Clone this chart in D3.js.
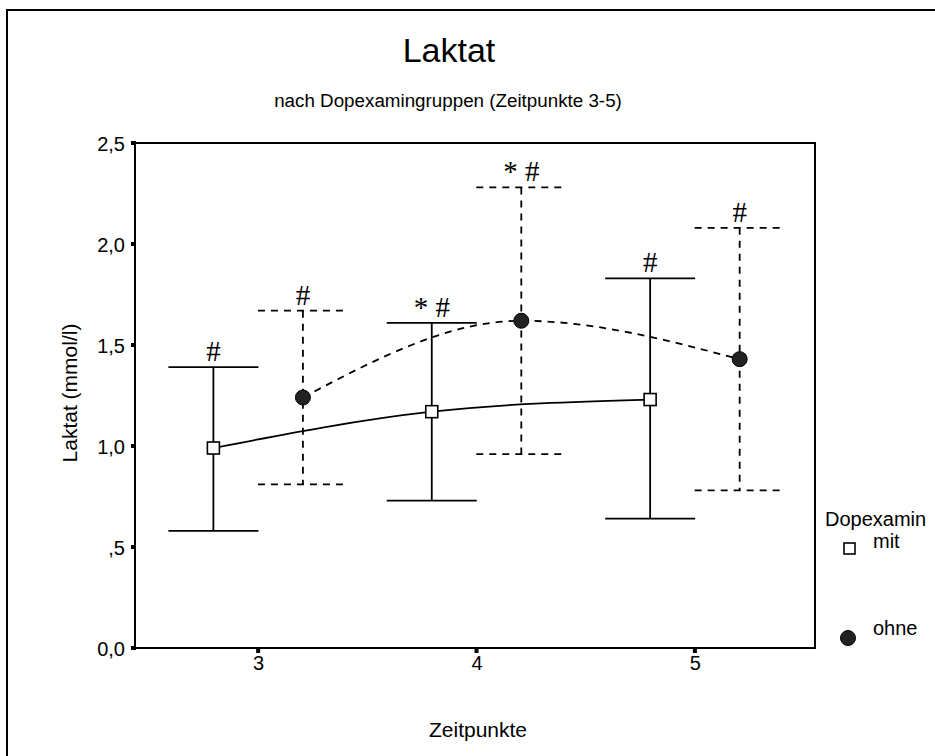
<!DOCTYPE html>
<html>
<head>
<meta charset="utf-8">
<script src="https://cdn.jsdelivr.net/npm/d3@7"></script>
<style>
  html, body { margin: 0; background: #fff; overflow: hidden; }
  svg { display: block; }
  text { font-family: Arial, "Liberation Sans", sans-serif; fill: #000; }
</style>
</head>
<body>
<div id="chart"></div>
<script>
// Data
const timepoints = [3, 4, 5];
const groups = ["mit", "ohne"];
const mitMean = [0.99, 1.17, 1.23];
const mitUpper = [1.39, 1.61, 1.83];
const mitLower = [0.58, 0.73, 0.64];
const ohneMean = [1.24, 1.62, 1.43];
const ohneUpper = [1.67, 2.28, 2.08];
const ohneLower = [0.81, 0.96, 0.78];
const mitMarks = ["#", "* #", "#"];
const ohneMarks = ["#", "* #", "#"];
const yTicks = [0, 0.5, 1.0, 1.5, 2.0, 2.5];

const W = 935, H = 756;
const margin = { top: 143, right: 120, bottom: 108, left: 135 };
const width = 815 - margin.left;
const height = 648 - margin.top;
const labelFont = "Arial, 'Liberation Sans', sans-serif";

const svg = d3.select("#chart").append("svg")
    .attr("width", W).attr("height", H);

// outer frame (runs off the picture on the right and bottom)
svg.append("path")
    .attr("d", "M7,760 L7,10 L940,10")
    .attr("fill", "none").attr("stroke", "#000").attr("stroke-width", 2);

const g = svg.append("g").attr("transform", "translate(" + margin.left + "," + margin.top + ")");

const x = d3.scaleLinear().domain([2.436, 5.55]).range([0, width]);
const y = d3.scaleLinear().domain([0, 2.5]).range([height, 0]);
const offset = { mit: -0.205, ohne: 0.205 };

// plot frame
g.append("rect").attr("width", width).attr("height", height)
    .attr("fill", "none").attr("stroke", "#000").attr("stroke-width", 2);

// axes
const fmt = d => d === 0 ? "0,0" : (d < 1 ? "," + d3.format(".1f")(d).slice(2) : d3.format(".1f")(d).replace(".", ","));
g.append("g").call(d3.axisLeft(y).tickValues(yTicks).tickSize(0).tickPadding(10).tickFormat(fmt))
    .call(a => a.select(".domain").remove())
    .call(a => a.selectAll("text").attr("dy", "0.36em").style("font-size", "20px").style("font-family", labelFont));
g.selectAll(".ytick").data(yTicks).join("rect").attr("class", "ytick")
    .attr("x", -4).attr("y", d => y(d) - 2).attr("width", 5).attr("height", 4).attr("fill", "#000");

g.append("g").attr("transform", "translate(0," + height + ")")
    .call(d3.axisBottom(x).tickValues(timepoints).tickSize(0).tickPadding(8).tickFormat(d3.format("d")))
    .call(a => a.select(".domain").remove())
    .call(a => a.selectAll("text").style("font-size", "20px").style("font-family", labelFont));
g.selectAll(".xtick").data(timepoints).join("rect").attr("class", "xtick")
    .attr("x", d => x(d) - 2).attr("y", height).attr("width", 4).attr("height", 5).attr("fill", "#000");

// titles
svg.append("text").attr("x", 449).attr("y", 62).attr("text-anchor", "middle")
    .style("font-size", "34px").text("Laktat");
svg.append("text").attr("x", 448).attr("y", 107).attr("text-anchor", "middle")
    .style("font-size", "18.8px").text("nach Dopexamingruppen (Zeitpunkte 3-5)");
svg.append("text").attr("x", 478).attr("y", 737).attr("text-anchor", "middle")
    .style("font-size", "21px").text("Zeitpunkte");
svg.append("text").attr("transform", "translate(77,393) rotate(-90)").attr("text-anchor", "middle")
    .style("font-size", "21px").text("Laktat (mmol/l)");

// series
const series = [
  { key: "mit", mean: mitMean, upper: mitUpper, lower: mitLower, marks: mitMarks, dash: null },
  { key: "ohne", mean: ohneMean, upper: ohneUpper, lower: ohneLower, marks: ohneMarks, dash: "7,6" }
];

const capHalf = 45;
series.forEach(s => {
  const pts = timepoints.map((t, i) => ({ t: t + offset[s.key], m: s.mean[i], u: s.upper[i], l: s.lower[i], mark: s.marks[i] }));

  g.append("path").datum(pts)
      .attr("fill", "none").attr("stroke", "#000").attr("stroke-width", 1.8)
      .attr("stroke-dasharray", s.dash)
      .attr("d", d3.line().x(d => x(d.t)).y(d => y(d.m)).curve(d3.curveMonotoneX));

  const bars = g.selectAll(".bar-" + s.key).data(pts).join("g").attr("class", "bar-" + s.key);
  bars.append("line")
      .attr("x1", d => x(d.t)).attr("x2", d => x(d.t))
      .attr("y1", d => y(d.u)).attr("y2", d => y(d.l))
      .attr("stroke", "#000").attr("stroke-width", 1.8).attr("stroke-dasharray", s.dash);
  bars.append("line")
      .attr("x1", d => x(d.t) - capHalf).attr("x2", d => x(d.t) + capHalf)
      .attr("y1", d => y(d.u)).attr("y2", d => y(d.u))
      .attr("stroke", "#000").attr("stroke-width", 1.8).attr("stroke-dasharray", s.dash);
  bars.append("line")
      .attr("x1", d => x(d.t) - capHalf).attr("x2", d => x(d.t) + capHalf)
      .attr("y1", d => y(d.l)).attr("y2", d => y(d.l))
      .attr("stroke", "#000").attr("stroke-width", 1.8).attr("stroke-dasharray", s.dash);

  bars.append("text")
      .attr("x", d => x(d.t)).attr("y", d => y(d.u) - 6)
      .attr("text-anchor", "middle")
      .style("font-family", "'Liberation Serif', 'DejaVu Serif', serif")
      .style("font-size", "29px")
      .text(d => d.mark);

  if (s.key === "mit") {
    bars.append("rect")
        .attr("x", d => x(d.t) - 6).attr("y", d => y(d.m) - 6)
        .attr("width", 12).attr("height", 12)
        .attr("fill", "#fff").attr("stroke", "#000").attr("stroke-width", 1.6);
  } else {
    bars.append("circle")
        .attr("cx", d => x(d.t)).attr("cy", d => y(d.m)).attr("r", 7.5)
        .attr("fill", "#222").attr("stroke", "#000");
  }
});

// legend
svg.append("text").attr("x", 825).attr("y", 526).style("font-size", "20px").text("Dopexamin");
svg.append("rect").attr("x", 844).attr("y", 543).attr("width", 11).attr("height", 11)
    .attr("fill", "#fff").attr("stroke", "#000").attr("stroke-width", 1.6);
svg.append("text").attr("x", 873).attr("y", 548).style("font-size", "20px").text(groups[0]);
svg.append("circle").attr("cx", 848).attr("cy", 638).attr("r", 7.5).attr("fill", "#222").attr("stroke", "#000");
svg.append("text").attr("x", 873).attr("y", 635).style("font-size", "20px").text(groups[1]);
</script>
</body>
</html>
